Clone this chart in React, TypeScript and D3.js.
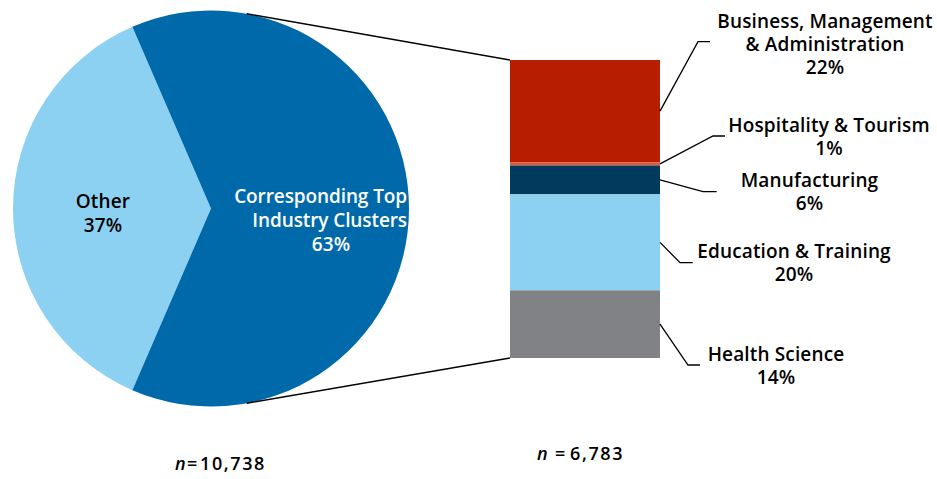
import React from "react";
import * as d3 from "d3";

// ---- data ----
const pieLabels = ["Other", "Corresponding Top Industry Clusters"];
const pieValues = [37, 63];
const pieN = "10,738";

const barCategories = [
  "Business, Management & Administration",
  "Hospitality & Tourism",
  "Manufacturing",
  "Education & Training",
  "Health Science",
];
const barValues = [21.6, 0.7, 6.1, 20.3, 14.3];
const barLabels = ["22%", "1%", "6%", "20%", "14%"];
const barN = "6,783";

// ---- styles / layout ----
const pieColors = ["#8DD1F2", "#0069AA"];
const barColors = ["#B71E00", "#E05A40", "#003A5D", "#8DD1F2", "#808285"];
const FONT = "'Open Sans', Roboto, sans-serif";
const FS = 19;

const W = 937;
const H = 479;
const cx = 211;
const cy = 208.5;
const R = 198;
const barX0 = 510;
const barX1 = 660;
const barTop = 60;
const barBottom = 358;
const connectorAngle = (10.4 * Math.PI) / 180;

// per-label layout: text lines, elbow, label center, first baseline
const labelLayout = [
  { lines: ["Business, Management", "& Administration"], elbow: [698, 41.7], endX: 710, cx: 825, y0: 28 },
  { lines: ["Hospitality & Tourism"], elbow: [713, 136], endX: 725, cx: 829, y0: 131.7 },
  { lines: ["Manufacturing"], elbow: [703, 191.7], endX: 716.7, cx: 809.5, y0: 186.7 },
  { lines: ["Education & Training"], elbow: [680, 262.7], endX: 692.7, cx: 794, y0: 258 },
  { lines: ["Health Science"], elbow: [688, 365], endX: 700, cx: 776, y0: 360.7 },
];
const LH = 23;

// n-label layout: x of "n", "=", number; baseline
const nLayout = [
  { xs: [175, 187, 200], y: 470, value: pieN },
  { xs: [537, 555, 570], y: 460, value: barN },
];

export default function App() {
  const pieGen = d3
    .pie<number>()
    .sort(null)
    .startAngle(-Math.PI / 2 - (pieValues[0] / 100) * Math.PI)
    .endAngle(-Math.PI / 2 - (pieValues[0] / 100) * Math.PI + 2 * Math.PI);
  const arcs = pieGen(pieValues);
  const arcGen = d3.arc<d3.PieArcDatum<number>>().innerRadius(0).outerRadius(R);

  const total = d3.sum(barValues);
  const y = d3.scaleLinear().domain([0, total]).range([barTop, barBottom]);
  let acc = 0;
  const segs = barValues.map((v, i) => {
    const s = { y0: y(acc), y1: y(acc + v), i };
    acc += v;
    return s;
  });

  const topPt = [cx + R * Math.sin(connectorAngle), cy - R * Math.cos(connectorAngle)];
  const botPt = [cx + R * Math.sin(connectorAngle), cy + R * Math.cos(connectorAngle)];

  return (
    <svg
      width={W}
      height={H}
      style={{ position: "absolute", left: 0, top: 0, background: "#fff" }}
      fontFamily={FONT}
      fontSize={FS}
      fontWeight={600}
      letterSpacing={0.15}
    >
      {arcs.map((a, i) => (
        <path key={i} d={arcGen(a) || ""} fill={pieColors[i]} transform={`translate(${cx},${cy})`} />
      ))}
      <line x1={topPt[0]} y1={topPt[1]} x2={barX0} y2={barTop} stroke="#000" strokeWidth={1.3} />
      <line x1={botPt[0]} y1={botPt[1]} x2={barX0} y2={barBottom} stroke="#000" strokeWidth={1.3} />

      {/* pie labels */}
      <text x={103} y={208.3} textAnchor="middle" fill="#000">{pieLabels[0]}</text>
      <text x={103} y={231.7} textAnchor="middle" fill="#000">{pieValues[0]}%</text>
      <text x={407} y={202.7} textAnchor="end" fill="#fff" letterSpacing={-0.1}>Corresponding Top</text>
      <text x={407} y={227} textAnchor="end" fill="#fff" letterSpacing={-0.1}>Industry Clusters</text>
      <text x={331} y={250.5} textAnchor="middle" fill="#fff">{pieValues[1]}%</text>

      {/* bar */}
      {segs.map((s) => (
        <rect key={s.i} x={barX0} y={s.y0} width={barX1 - barX0} height={s.y1 - s.y0} fill={barColors[s.i]} />
      ))}

      {segs.map((s) => {
        const L = labelLayout[s.i];
        const my = (s.y0 + s.y1) / 2;
        const allLines = [...L.lines, barLabels[s.i]];
        return (
          <g key={"l" + s.i}>
            <polyline
              points={`${barX1},${my} ${L.elbow[0]},${L.elbow[1]} ${L.endX},${L.elbow[1]}`}
              fill="none"
              stroke="#000"
              strokeWidth={1.3}
            />
            {allLines.map((t, k) => (
              <text key={k} x={L.cx} y={L.y0 + k * LH} textAnchor="middle" fill="#000">
                {t}
              </text>
            ))}
          </g>
        );
      })}

      {/* n labels */}
      {nLayout.map((n, i) => (
        <g key={"n" + i} fill="#000" fontSize={18}>
          <text x={n.xs[0]} y={n.y} fontStyle="italic">n</text>
          <text x={n.xs[1]} y={n.y}>=</text>
          <text x={n.xs[2]} y={n.y} letterSpacing={1.6}>{n.value}</text>
        </g>
      ))}
    </svg>
  );
}
